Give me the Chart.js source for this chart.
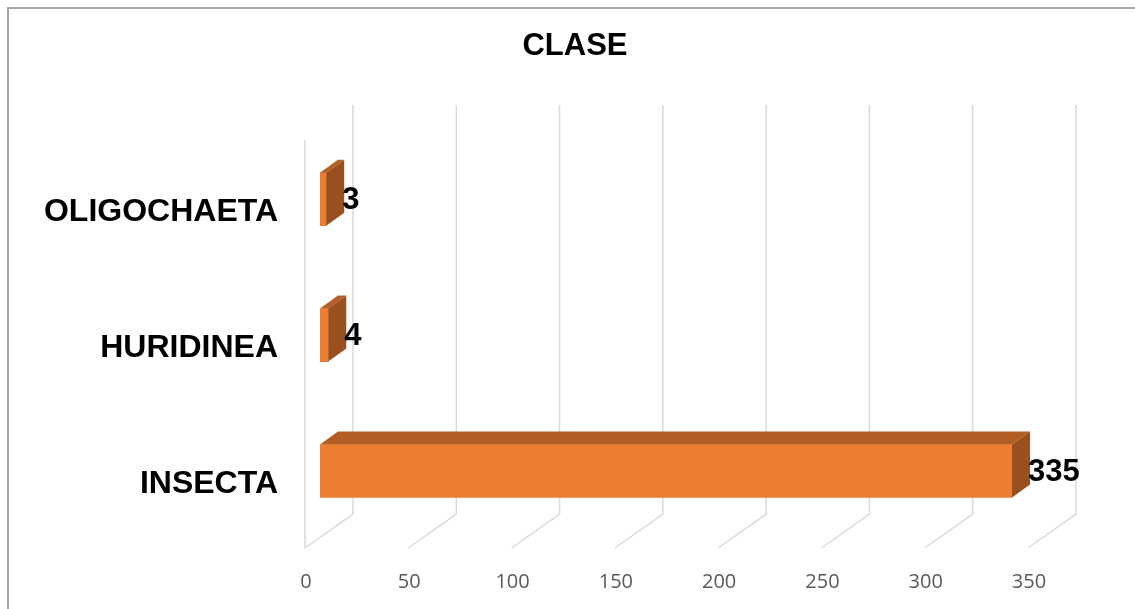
<!DOCTYPE html>
<html>
<head>
<meta charset="utf-8">
<script src="https://cdn.jsdelivr.net/npm/chart.js@4"></script>
<style>
  html, body { margin: 0; padding: 0; background: #fff; }
  #wrap { width: 1135px; height: 609px; }
</style>
</head>
<body>
<div id="wrap"><canvas id="claseChart"></canvas></div>
<script>
// data
const categories = ['OLIGOCHAETA', 'HURIDINEA', 'INSECTA'];
const counts = [3, 4, 335];
const axisMax = 350;
const axisStep = 50;

// fake 3D depth (pixels)
const barDepth = { dx: 18, dy: -13 };
const front = -15;      // front edge of floor relative to the bar's front face
const back = 33;        // back wall relative to the bar's front face

const box3d = {
  id: 'box3d',
  beforeDraw(chart) {
    const ctx = chart.ctx;
    ctx.save();
    ctx.strokeStyle = '#A6A6A6';
    ctx.lineWidth = 2;
    ctx.beginPath();
    ctx.moveTo(8, chart.height);
    ctx.lineTo(8, 8);
    ctx.lineTo(chart.width, 8);
    ctx.stroke();
    ctx.restore();
  },
  beforeDatasetsDraw(chart) {
    const { ctx, scales: { x } } = chart;
    const wallTop = 105, floorBack = 514, floorFront = 548;
    ctx.save();
    ctx.strokeStyle = '#D9D9D9';
    ctx.lineWidth = 1.5;
    ctx.beginPath();
    // side wall front edge
    const x0 = x.getPixelForValue(0);
    ctx.moveTo(x0 + front, 140);
    ctx.lineTo(x0 + front, floorFront);
    for (let v = 0; v <= axisMax; v += axisStep) {
      const px = x.getPixelForValue(v);
      ctx.moveTo(px + back, wallTop);
      ctx.lineTo(px + back, floorBack);
      ctx.lineTo(px + front, floorFront);
    }
    ctx.stroke();
    ctx.restore();
  },
  afterDatasetsDraw(chart) {
    const ctx = chart.ctx;
    const meta = chart.getDatasetMeta(0);
    const { dx, dy } = barDepth;
    ctx.save();
    meta.data.forEach((bar, i) => {
      const p = bar.getProps(['x', 'y', 'base', 'height'], true);
      const top = p.y - p.height / 2;
      const bottom = p.y + p.height / 2;
      // top face
      ctx.fillStyle = '#B35E25';
      ctx.beginPath();
      ctx.moveTo(p.base, top);
      ctx.lineTo(p.base + dx, top + dy);
      ctx.lineTo(p.x + dx, top + dy);
      ctx.lineTo(p.x, top);
      ctx.closePath();
      ctx.fill();
      // side face
      ctx.fillStyle = '#9A4F1F';
      ctx.beginPath();
      ctx.moveTo(p.x, top);
      ctx.lineTo(p.x + dx, top + dy);
      ctx.lineTo(p.x + dx, bottom + dy);
      ctx.lineTo(p.x, bottom);
      ctx.closePath();
      ctx.fill();
      // value label
      ctx.fillStyle = '#000';
      ctx.font = 'bold 31px "Liberation Sans", Arial, sans-serif';
      ctx.textAlign = 'left';
      ctx.textBaseline = 'middle';
      ctx.fillText(String(counts[i]), p.x + dx - 2, p.y + 1);
    });
    ctx.restore();
  }
};

new Chart(document.getElementById('claseChart'), {
  type: 'bar',
  data: {
    labels: categories,
    datasets: [{
      label: 'CLASE',
      data: counts,
      backgroundColor: '#ED7D31',
      borderWidth: 0,
      barThickness: 53
    }]
  },
  options: {
    indexAxis: 'y',
    responsive: true,
    maintainAspectRatio: false,
    animation: false,
    layout: { padding: { left: 15, right: 0, top: 0, bottom: 0 } },
    plugins: {
      legend: { display: false },
      tooltip: { enabled: false },
      title: {
        display: true,
        text: 'CLASE',
        color: '#000',
        font: { family: '"Liberation Sans", Arial, sans-serif', size: 31, weight: 'bold', lineHeight: 1.2 },
        padding: { top: 28, bottom: 66 }
      }
    },
    scales: {
      x: {
        min: 0,
        max: axisMax,
        grid: { display: false },
        border: { display: false },
        afterFit(scale) { scale.height = 70; },
        ticks: {
          stepSize: axisStep,
          color: '#595959',
          font: { family: '"Open Sans", sans-serif', size: 20 },
          padding: 23,
          labelOffset: front + 1
        }
      },
      y: {
        grid: { display: false },
        border: { display: false },
        afterFit(scale) { scale.width = 305; },
        ticks: {
          color: '#000',
          font: { family: '"Liberation Sans", Arial, sans-serif', size: 32, weight: 'bold' },
          padding: 34,
          labelOffset: 13
        }
      },
      // empty right-hand band so the plot ends where the reference's does
      yRight: {
        type: 'category',
        position: 'right',
        grid: { display: false },
        border: { display: false },
        ticks: { display: false },
        afterFit(scale) { scale.width = 92; }
      }
    }
  },
  plugins: [box3d]
});
</script>
</body>
</html>
